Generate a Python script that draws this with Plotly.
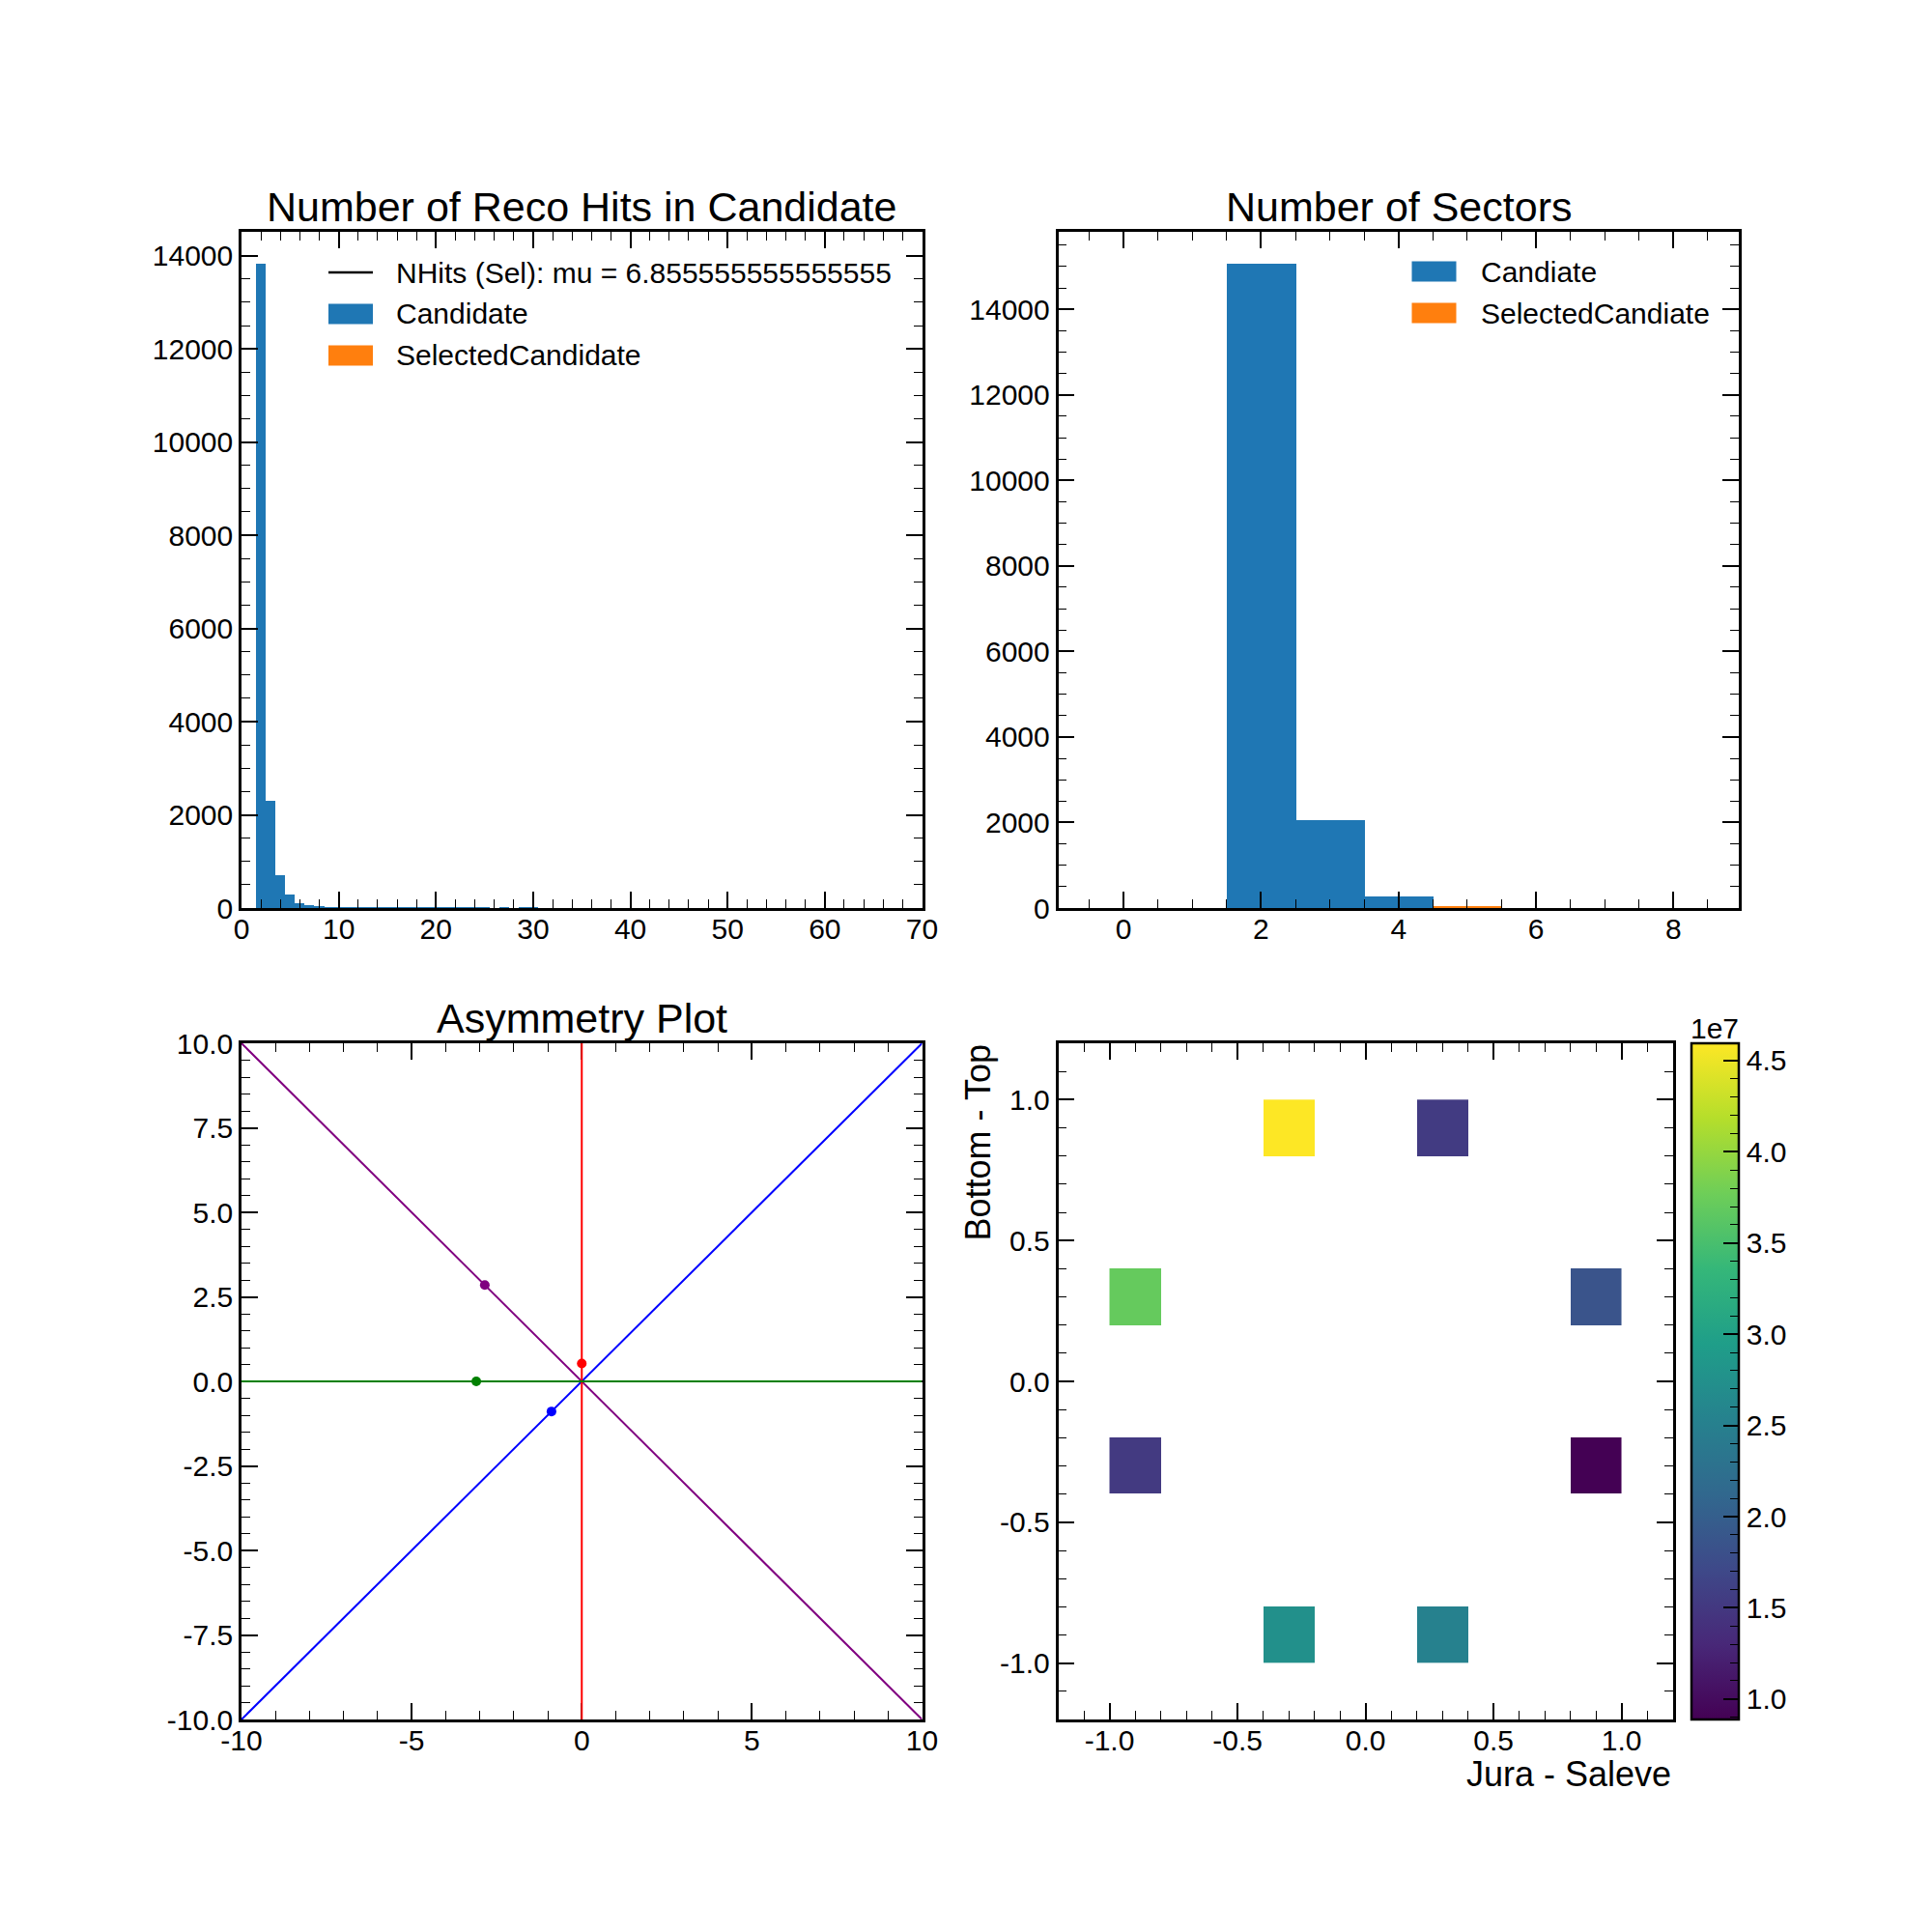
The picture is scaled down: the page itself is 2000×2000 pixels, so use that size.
import plotly.graph_objects as go
from plotly.subplots import make_subplots

# ---- data ----
# reco hits per candidate, 1-wide bins centred on integers
nhits_bins = list(range(2, 31))
nhits_cand = [13820, 2304, 700, 283, 112, 70, 32, 15, 10, 8, 6, 5, 4, 3, 3,
              2, 2, 2, 1, 1, 1, 1, 1, 1, 0, 1, 0, 1, 1]
nhits_sel_bins = list(range(3, 13))
nhits_sel = [5, 10, 14, 15, 13, 11, 8, 6, 5, 3]
mu_sel = 6.855555555555555

# number of sectors
sector_bins = [0, 1, 2, 3, 4, 5, 6, 7, 8]
sectors_cand = [0, 0, 15060, 2060, 270, 40, 0, 0, 0]
sectors_sel = [0, 0, 0, 0, 0, 55, 0, 0, 0]

# asymmetry plot: reference lines and the measured points
span = [-10, 10]
flat = [0, 0]
anti = [10, -10]
asym_x = [-2.85, 0.0, -3.1, -0.89]
asym_y = [2.85, 0.53, 0.0, -0.89]
asym_col = ["purple", "red", "green", "blue"]

# sector map (Jura - Saleve vs Bottom - Top), 0.2 wide bins
hm_centres = [-0.9, -0.7, -0.5, -0.3, -0.1, 0.1, 0.3, 0.5, 0.7, 0.9]
hm_x = [-0.3, 0.3, -0.9, 0.9, -0.9, 0.9, -0.3, 0.3]
hm_y = [0.9, 0.9, 0.3, 0.3, -0.3, -0.3, -0.9, -0.9]
hm_val = [4.595e7, 1.537e7, 3.705e7, 1.852e7, 1.52e7, 0.888e7, 2.742e7, 2.519e7]

cb_vals = [1.0e7, 1.5e7, 2.0e7, 2.5e7, 3.0e7, 3.5e7, 4.0e7, 4.5e7]
cb_text = ["1.0", "1.5", "2.0", "2.5", "3.0", "3.5", "4.0", "4.5"]
cb_minor = [k * 1e6 for k in range(9, 46) if k % 5]
asym_xt = [-10, -5, 0, 5, 10]
asym_xl = ["-10", "-5", "0", "5", "10"]
asym_yt = [-10, -7.5, -5, -2.5, 0, 2.5, 5, 7.5, 10]
asym_yl = ["-10.0", "-7.5", "-5.0", "-2.5", "0.0", "2.5", "5.0", "7.5", "10.0"]
hm_ticks = [-1.0, -0.5, 0.0, 0.5, 1.0]
hm_tl = ["-1.0", "-0.5", "0.0", "0.5", "1.0"]

BLUE = "#1f77b4"
ORANGE = "#ff7f0e"
FONT = "Liberation Sans"
W = H = 2000


def px(x):
    return x / W


def py(y):
    return 1 - y / H


z = [[None] * len(hm_centres) for _ in hm_centres]
for x, y, v in zip(hm_x, hm_y, hm_val):
    z[hm_centres.index(y)][hm_centres.index(x)] = v

fig = make_subplots(rows=2, cols=2)

# top left
fig.add_trace(go.Bar(x=nhits_sel_bins, y=nhits_sel, width=1, marker_color=ORANGE,
                     marker_line_width=0, name="SelectedCandidate"), row=1, col=1)
fig.add_trace(go.Bar(x=nhits_bins, y=nhits_cand, width=1, marker_color=BLUE,
                     marker_line_width=0, name="Candidate"), row=1, col=1)

# top right
fig.add_trace(go.Bar(x=sector_bins, y=sectors_cand, width=1, marker_color=BLUE,
                     marker_line_width=0, name="Candiate"), row=1, col=2)
fig.add_trace(go.Bar(x=sector_bins, y=sectors_sel, width=1, marker_color=ORANGE,
                     marker_line_width=0, name="SelectedCandiate"), row=1, col=2)

# bottom left
for lx, ly, c in [(span, anti, "purple"), (span, span, "blue"), (flat, span, "red"), (span, flat, "green")]:
    fig.add_trace(go.Scatter(x=lx, y=ly, mode="lines", line=dict(color=c, width=2)), row=2, col=1)
fig.add_trace(go.Scatter(x=asym_x, y=asym_y, mode="markers",
                         marker=dict(color=asym_col, size=10)), row=2, col=1)

# bottom right
cbar = dict(x=px(1751), xanchor="left", y=py(1430), yanchor="middle",
            thickness=49, thicknessmode="pixels", len=700, lenmode="pixels",
            xpad=0, ypad=0, ticks="inside", tickcolor="black")
fig.add_trace(go.Heatmap(x=hm_centres, y=hm_centres, z=z, colorscale="Viridis",
                         colorbar=dict(cbar, outlinewidth=2.5, outlinecolor="black",
                                       ticklen=17, tickwidth=1.5,
                                       tickvals=cb_vals, ticktext=cb_text,
                                       tickfont=dict(size=30, color="black", family=FONT)),
                         hoverongaps=False), row=2, col=2)
# same cells again, fully transparent, only to carry the colour bar's minor ticks
fig.add_trace(go.Heatmap(x=hm_centres, y=hm_centres, z=z,
                         colorscale=[[0, "rgba(0,0,0,0)"], [1, "rgba(0,0,0,0)"]],
                         colorbar=dict(cbar, outlinewidth=0, ticklen=9, tickwidth=1.2,
                                       tickvals=cb_minor, showticklabels=False),
                         hoverinfo="skip"), row=2, col=2)

axis = dict(showline=True, linewidth=2.5, linecolor="black", mirror="allticks",
            ticks="inside", ticklen=17, tickwidth=1.5, tickcolor="black",
            showgrid=False, zeroline=False, automargin=False,
            tickfont=dict(size=30, color="black"))


def minor(step):
    return dict(ticks="inside", ticklen=9, tickwidth=1.2, tickcolor="black", dtick=step, showgrid=False)


fig.update_xaxes(axis, ticklabelstandoff=-7)
fig.update_yaxes(axis)

left_col = [px(250), px(954.5)]
right_col = [px(1095.5), px(1800)]
top_row = [py(940), py(240)]
bot_row = [py(1780), py(1080)]

top = max(nhits_cand) * 1.05
fig.update_xaxes(range=[0, 70], dtick=10, tick0=0, minor=minor(2), domain=left_col, row=1, col=1)
fig.update_yaxes(range=[0, top], dtick=2000, tick0=0, tickformat="d", minor=minor(500),
                 domain=top_row, row=1, col=1)

top2 = max(sectors_cand) * 1.05
fig.update_xaxes(range=[-0.95, 8.95], dtick=2, tick0=0, minor=minor(0.5), domain=right_col, row=1, col=2)
fig.update_yaxes(range=[0, top2], dtick=2000, tick0=0, tickformat="d", minor=minor(500),
                 domain=top_row, row=1, col=2)

# lines sit above the ticks here, as in matplotlib
fig.update_xaxes(range=[-10, 10], tickvals=asym_xt, ticktext=asym_xl, minor=minor(1),
                 domain=left_col, layer="below traces", row=2, col=1)
fig.update_yaxes(range=[-10, 10], tickvals=asym_yt, ticktext=asym_yl, minor=minor(0.5),
                 domain=bot_row, layer="below traces", row=2, col=1)

fig.update_xaxes(range=[-1.2, 1.2], tickvals=hm_ticks, ticktext=hm_tl, minor=minor(0.1),
                 domain=[px(1095.5), px(1731.7)], row=2, col=2)
fig.update_yaxes(range=[-1.2, 1.2], tickvals=hm_ticks, ticktext=hm_tl, minor=minor(0.1),
                 domain=bot_row, row=2, col=2)

titles = [("Number of Reco Hits in Candidate", sum(left_col) / 2, top_row[1]),
          ("Number of Sectors", sum(right_col) / 2, top_row[1]),
          ("Asymmetry Plot", sum(left_col) / 2, bot_row[1])]
for text, x, y in titles:
    fig.add_annotation(text=text, x=x, y=y, xref="paper", yref="paper", xanchor="center",
                       yanchor="bottom", showarrow=False, font=dict(size=43, color="black"))

fig.add_annotation(text="Jura - Saleve", x=px(1731.7), y=py(1836), xref="paper", yref="paper",
                   xanchor="right", yanchor="middle", showarrow=False, font=dict(size=36, color="black"))
fig.add_annotation(text="Bottom - Top", x=px(1012), y=py(1080), xref="paper", yref="paper", textangle=-90,
                   xanchor="center", yanchor="top", showarrow=False, font=dict(size=36, color="black"))
fig.add_annotation(text="1e7", x=px(1775), y=py(1064), xref="paper", yref="paper",
                   xanchor="center", yanchor="middle", showarrow=False, font=dict(size=30, color="black"))

# legends drawn in the matplotlib manner: 46x21 px patches / line handle, text to the right
legends = [
    (340, 410, [(282, "line", "black", "NHits (Sel): mu = %r" % mu_sel),
                (325, "box", BLUE, "Candidate"),
                (368, "box", ORANGE, "SelectedCandidate")]),
    (1461.5, 1533, [(281, "box", BLUE, "Candiate"),
                    (324, "box", ORANGE, "SelectedCandiate")]),
]
for hx, tx, rows in legends:
    for ry, kind, col, label in rows:
        if kind == "line":
            fig.add_shape(type="line", xref="paper", yref="paper", x0=px(hx), x1=px(hx + 46),
                          y0=py(ry), y1=py(ry), line=dict(color=col, width=2.5))
        else:
            fig.add_shape(type="rect", xref="paper", yref="paper", x0=px(hx), x1=px(hx + 46),
                          y0=py(ry + 10.5), y1=py(ry - 10.5), fillcolor=col, line_width=0)
        fig.add_annotation(text=label, x=px(tx - 2), y=py(ry), xref="paper", yref="paper",
                           xanchor="left", yanchor="middle", showarrow=False,
                           font=dict(size=30, color="black"))

fig.update_layout(
    width=W, height=H,
    margin=dict(l=0, r=0, t=0, b=0, autoexpand=False),
    paper_bgcolor="white", plot_bgcolor="white",
    font=dict(family=FONT, color="black"),
    barmode="overlay", bargap=0,
    showlegend=False,
)

fig.write_html("out.html", config={"displayModeBar": False},
               post_script="document.body.style.margin='0';document.body.style.overflow='hidden';")
